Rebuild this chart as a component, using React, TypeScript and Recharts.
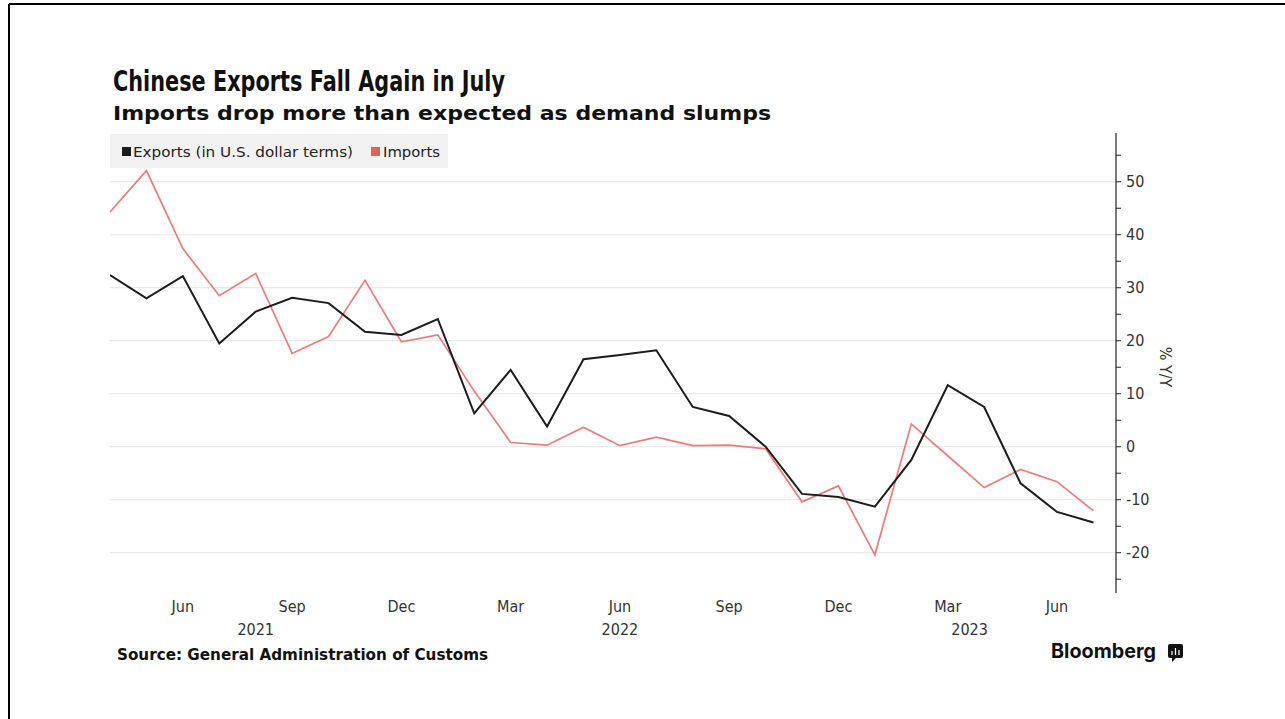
import React from 'react';
import { LineChart, Line, XAxis, YAxis, CartesianGrid } from 'recharts';

const months = [
  'Apr 2021', 'May 2021', 'Jun 2021', 'Jul 2021', 'Aug 2021', 'Sep 2021', 'Oct 2021', 'Nov 2021', 'Dec 2021',
  'Jan 2022', 'Feb 2022', 'Mar 2022', 'Apr 2022', 'May 2022', 'Jun 2022', 'Jul 2022', 'Aug 2022', 'Sep 2022',
  'Oct 2022', 'Nov 2022', 'Dec 2022', 'Jan 2023', 'Feb 2023', 'Mar 2023', 'Apr 2023', 'May 2023', 'Jun 2023',
  'Jul 2023',
];
const exportsYoY = [
  32.4, 28.0, 32.2, 19.5, 25.5, 28.1, 27.1, 21.7, 21.1,
  24.1, 6.3, 14.5, 3.8, 16.5, 17.3, 18.2, 7.5, 5.8,
  0.0, -8.9, -9.5, -11.3, -2.5, 11.6, 7.5, -6.9, -12.3,
  -14.3,
];
const importsYoY = [
  44.3, 52.1, 37.4, 28.5, 32.7, 17.6, 20.8, 31.4, 19.8,
  21.1, 10.5, 0.8, 0.3, 3.7, 0.2, 1.8, 0.2, 0.3,
  -0.4, -10.4, -7.4, -20.4, 4.3, -1.7, -7.7, -4.3, -6.6,
  -12.1,
];
const monthTickIdx = [2, 5, 8, 11, 14, 17, 20, 23, 26];
const monthTickLabels = ['Jun', 'Sep', 'Dec', 'Mar', 'Jun', 'Sep', 'Dec', 'Mar', 'Jun'];
const yearTickIdx = [4, 14, 23.6];
const yearTickLabels = ['2021', '2022', '2023'];
const yTicks = [-25, -20, -15, -10, -5, 0, 5, 10, 15, 20, 25, 30, 35, 40, 45, 50, 55];
const yGridValues = [-20, -10, 0, 10, 20, 30, 40, 50];

const data = months.map((m, i) => ({ i, month: m, exports: exportsYoY[i], imports: importsYoY[i] }));

const TICK_FONT = '"DejaVu Sans Condensed", "DejaVu Sans", sans-serif';
const EXPORT_COLOR = '#1c1c1c';
const IMPORT_COLOR = '#f07a7a';

const YTick = (props: any) => {
  const { x, y, payload } = props;
  const v = payload.value;
  const major = v % 10 === 0;
  return (
    <g>
      <line x1={x} x2={x + 5} y1={y} y2={y} stroke="#222" strokeWidth={1} />
      {major && (
        <text x={x + 10} y={y} dominantBaseline="central" textAnchor="start"
          fontFamily={TICK_FONT} fontSize={16} fill="#333">
          {v}
        </text>
      )}
    </g>
  );
};

export default function App() {
  return (
    <div style={{ position: 'absolute', left: 0, top: 0, width: 1285, height: 719, background: '#fff' }}>
      <LineChart width={1285} height={719} data={data}
        margin={{ top: 133, left: 110, right: 109, bottom: 80 }}>
        <CartesianGrid xAxisId="m" yAxisId="r" vertical={false} horizontalValues={yGridValues}
          stroke="#e4e4e4" strokeWidth={1} />
        <XAxis xAxisId="m" dataKey="i" type="number" domain={[0, 27.62]} ticks={monthTickIdx}
          tickFormatter={(v: number) => monthTickLabels[monthTickIdx.indexOf(v)]}
          axisLine={false} tickLine={false} tickSize={0} tickMargin={8} height={22}
          interval={0} allowDataOverflow
          tick={{ fontFamily: TICK_FONT, fontSize: 16, fill: '#333' }} />
        <XAxis xAxisId="y" dataKey="i" type="number" domain={[0, 27.62]} ticks={yearTickIdx}
          tickFormatter={(v: number) => yearTickLabels[yearTickIdx.indexOf(v)]}
          axisLine={false} tickLine={false} tickSize={0} tickMargin={9} height={24}
          interval={0} allowDataOverflow
          tick={{ fontFamily: TICK_FONT, fontSize: 16, fill: '#333' }} />
        <YAxis yAxisId="r" orientation="right" type="number" domain={[-27.6, 59.2]} ticks={yTicks}
          interval={0} allowDataOverflow width={60} tickSize={0} tickMargin={0} tickLine={false}
          axisLine={{ stroke: '#222', strokeWidth: 1.2 }} tick={<YTick />} />
        <Line xAxisId="m" yAxisId="r" type="linear" dataKey="imports" name="Imports"
          stroke={IMPORT_COLOR} strokeWidth={1.7} dot={false} isAnimationActive={false} />
        <Line xAxisId="m" yAxisId="r" type="linear" dataKey="exports" name="Exports (in U.S. dollar terms)"
          stroke={EXPORT_COLOR} strokeWidth={2} dot={false} isAnimationActive={false} />
      </LineChart>
      <svg width={1285} height={719} style={{ position: 'absolute', left: 0, top: 0, pointerEvents: 'none' }}>
        <line x1={9} y1={4} x2={1285} y2={4} stroke="#000" strokeWidth={2} />
        <line x1={9} y1={4} x2={9} y2={719} stroke="#000" strokeWidth={2} />
        <text x={113} y={91} fontFamily='"DejaVu Sans", sans-serif' fontWeight="bold" fontSize={28}
          fill="#111" textLength={392} lengthAdjust="spacingAndGlyphs">Chinese Exports Fall Again in July</text>
        <text x={113} y={120} fontFamily='"DejaVu Sans", sans-serif' fontWeight="bold" fontSize={20}
          fill="#111" textLength={658} lengthAdjust="spacingAndGlyphs">Imports drop more than expected as demand slumps</text>
        <rect x={110} y={134} width={338} height={34} fill="#f2f2f2" />
        <rect x={122} y={147} width={9} height={9} fill={EXPORT_COLOR} />
        <text x={133} y={157} fontFamily={TICK_FONT} fontSize={14} fill="#222"
          textLength={220} lengthAdjust="spacingAndGlyphs">Exports (in U.S. dollar terms)</text>
        <rect x={371} y={147} width={9} height={9} fill="#ef5c5c" />
        <text x={383} y={157} fontFamily={TICK_FONT} fontSize={14} fill="#222"
          textLength={57} lengthAdjust="spacingAndGlyphs">Imports</text>
        <text x={1165} y={367} transform="rotate(90 1165 367)" textAnchor="middle" dominantBaseline="central"
          fontFamily={TICK_FONT} fontSize={16} fill="#333">% Y/Y</text>
        <text x={117} y={660} fontFamily='"DejaVu Sans", sans-serif' fontWeight="bold" fontSize={15}
          fill="#111" textLength={371} lengthAdjust="spacingAndGlyphs">Source: General Administration of Customs</text>
        <text x={1051} y={658} fontFamily='Inter, "DejaVu Sans", sans-serif' fontWeight="bold" fontSize={20}
          fill="#111" textLength={105} lengthAdjust="spacingAndGlyphs">Bloomberg</text>
        <rect x={1168} y={644} width={15} height={14} rx={2} fill="#111" />
        <path d="M1172 658 L1172 662 L1176 658 Z" fill="#111" />
        <line x1={1172} y1={655} x2={1172} y2={651} stroke="#fff" strokeWidth={1.2} />
        <line x1={1175.5} y1={655} x2={1175.5} y2={648} stroke="#fff" strokeWidth={1.2} />
        <line x1={1179} y1={655} x2={1179} y2={650} stroke="#fff" strokeWidth={1.2} />
      </svg>
    </div>
  );
}
